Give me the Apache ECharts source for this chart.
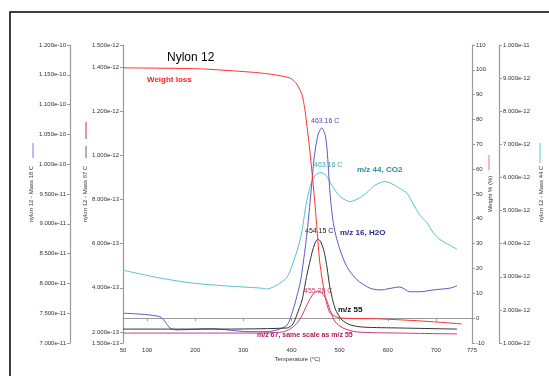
<!DOCTYPE html>
<html>
<head>
<meta charset="utf-8">
<script src="https://cdn.jsdelivr.net/npm/echarts@6/dist/echarts.min.js"></script>
<style>
html, body { margin: 0; padding: 0; background: #fff; }
#main { width: 549px; height: 376px; }
</style>
</head>
<body>
<div id="main"></div>
<script>
// temperatures (C) and signals
var tempMass18 = [50,127,148,162,231,314,349,370,391,403,418,428,434,441,447,455,463,470,474,480,486,492,501,515,536,563,584,625,646,667,694,729,744];
var mass18 = [7.50e-11,7.44e-11,7.25e-11,7.22e-11,7.24e-11,7.19e-11,7.19e-11,7.22e-11,7.30e-11,7.55e-11,8.01e-11,8.56e-11,8.98e-11,9.57e-11,10.10e-11,10.49e-11,10.61e-11,10.49e-11,10.24e-11,9.52e-11,9.06e-11,8.81e-11,8.56e-11,8.28e-11,8.06e-11,7.92e-11,7.89e-11,7.94e-11,7.86e-11,7.86e-11,7.89e-11,7.92e-11,7.96e-11];

var tempMass44 = [50,127,195,266,335,349,370,391,412,422,430,439,449,461,472,484,501,522,542,557,573,594,611,625,640,652,667,681,694,708,729,744];
var mass44 = [3.20e-12,2.96e-12,2.81e-12,2.72e-12,2.66e-12,2.63e-12,2.75e-12,2.99e-12,3.80e-12,4.40e-12,5.16e-12,5.73e-12,6.06e-12,6.15e-12,6.06e-12,5.76e-12,5.42e-12,5.27e-12,5.39e-12,5.55e-12,5.76e-12,5.88e-12,5.79e-12,5.67e-12,5.52e-12,5.22e-12,4.86e-12,4.64e-12,4.34e-12,4.13e-12,3.95e-12,3.83e-12];

var tempMass55 = [50,210,391,403,411,422,432,443,449,455,461,468,474,480,491,505,522,549,625,744];
var mass55 = [2.13e-13,2.13e-13,2.18e-13,2.36e-13,2.77e-13,3.45e-13,4.58e-13,5.62e-13,6.03e-13,6.21e-13,6.08e-13,5.62e-13,4.90e-13,3.99e-13,3.04e-13,2.54e-13,2.32e-13,2.22e-13,2.18e-13,2.13e-13];

var tempMass67 = [50,314,382,403,418,434,445,455,463,472,480,491,507,536,625,744];
var mass67 = [1.95e-13,1.95e-13,2.00e-13,2.22e-13,2.59e-13,3.31e-13,3.72e-13,3.86e-13,3.77e-13,3.49e-13,3.00e-13,2.45e-13,2.18e-13,2.00e-13,1.95e-13,1.91e-13];

var tempWeight = [50,210,314,355,397,411,422,428,438,449,453,459,470,480,501,584,667,754];
var weightPct = [100.8,100.4,99.1,98.3,96.7,94.3,89.9,83.8,67.7,45.6,35.6,22.2,8.5,2.1,0.1,-0.3,-1.1,-2.3];

var xTicks = [50,100,200,300,400,500,600,700,775];
var mass67Ticks = [1.5e-13,2e-13,4e-13,6e-13,8e-13,1e-12,1.2e-12,1.4e-12,1.5e-12];

function pairs(xs, ys) {
    return xs.map(function (x, i) { return [x, ys[i]]; });
}
function expo(v) { return v.toExponential(3); }

var font = 'Liberation Sans, Arial, sans-serif';
var axisGrey = '#9a9a9a';
var small = { fontSize: 6, color: '#333', fontFamily: font };

function yAx(o) {
    return Object.assign({
        type: 'value',
        nameLocation: 'middle',
        nameRotate: 90,
        nameMoveOverlap: false,
        nameTextStyle: small,
        axisLine: { show: true, lineStyle: { color: axisGrey, width: 1.2 } },
        axisTick: { show: true, length: 3, lineStyle: { color: axisGrey } },
        splitLine: { show: false },
        axisLabel: Object.assign({ margin: 4, formatter: expo }, small)
    }, o);
}

var myChart = echarts.init(document.getElementById('main'));
var option = {
    animation: false,
    backgroundColor: '#fff',
    title: {
        text: 'Nylon 12',
        left: 162, top: 47,
        textStyle: { fontSize: 12, fontWeight: 'normal', color: '#000', fontFamily: font }
    },
    grid: { left: 123, right: 77, top: 45, bottom: 33, containLabel: false, outerBoundsMode: 'none' },
    xAxis: {
        type: 'value', min: 50, max: 775,
        name: 'Temperature (°C)', nameLocation: 'middle', nameGap: 13, nameMoveOverlap: false,
        nameTextStyle: small,
        axisLine: { lineStyle: { color: axisGrey, width: 1.2 } },
        axisTick: { length: 3, customValues: xTicks, lineStyle: { color: axisGrey } },
        splitLine: { show: false },
        axisLabel: Object.assign({ margin: 4, customValues: xTicks }, small)
    },
    yAxis: [
        yAx({ position: 'left', offset: 53, min: 7e-11, max: 1.2e-10, interval: 5e-12,
              name: 'nylon 12 - Mass 18 C', nameGap: 36 }),
        yAx({ position: 'left', offset: 0, min: 1.5e-13, max: 1.5e-12,
              name: 'nylon 12 - Mass 67 C', nameGap: 35,
              axisTick: { show: true, length: 3, customValues: mass67Ticks, lineStyle: { color: axisGrey } },
              axisLabel: Object.assign({ margin: 4, formatter: expo, customValues: mass67Ticks }, small) }),
        yAx({ position: 'right', offset: 0, min: -10, max: 110, interval: 10,
              name: 'Weight % (%)', nameGap: 15,
              axisLabel: Object.assign({ margin: 4 }, small) }),
        yAx({ position: 'right', offset: 27, min: 1e-12, max: 1e-11, interval: 1e-12,
              name: 'nylon 12 - Mass 44 C', nameGap: 39 })
    ],
    series: [
        { name: 'm/z 44', type: 'line', yAxisIndex: 3, data: pairs(tempMass44, mass44), smooth: 0.25,
          showSymbol: false, lineStyle: { color: '#5cbfcb', width: 1 } },
        { name: 'm/z 18', type: 'line', yAxisIndex: 0, data: pairs(tempMass18, mass18), smooth: 0.25,
          showSymbol: false, lineStyle: { color: '#5a5ac8', width: 1 } },
        { name: 'm/z 55', type: 'line', yAxisIndex: 1, data: pairs(tempMass55, mass55), smooth: 0.25,
          showSymbol: false, lineStyle: { color: '#333', width: 1 } },
        { name: 'm/z 67', type: 'line', yAxisIndex: 1, data: pairs(tempMass67, mass67), smooth: 0.25,
          showSymbol: false, lineStyle: { color: '#c83c78', width: 1 } },
        { name: 'Weight', type: 'line', yAxisIndex: 2, data: pairs(tempWeight, weightPct), smooth: 0.2,
          showSymbol: false, lineStyle: { color: '#ff3030', width: 1 } }
    ],
    graphic: [
        // outer frame
        { type: 'polyline', shape: { points: [[10, 380], [10, 12], [560, 12]] }, style: { stroke: '#000', lineWidth: 1.5, fill: null } },
        // legend keys beside axis titles
        { type: 'line', shape: { x1: 33, y1: 143, x2: 33, y2: 158 }, style: { stroke: '#7a7ad8', lineWidth: 1 } },
        { type: 'line', shape: { x1: 86, y1: 122, x2: 86, y2: 139 }, style: { stroke: '#e07090', lineWidth: 1.5 } },
        { type: 'line', shape: { x1: 86, y1: 146, x2: 86, y2: 158 }, style: { stroke: '#666', lineWidth: 1 } },
        { type: 'line', shape: { x1: 489, y1: 155, x2: 489, y2: 170 }, style: { stroke: '#f07080', lineWidth: 1 } },
        { type: 'line', shape: { x1: 540, y1: 143, x2: 540, y2: 163 }, style: { stroke: '#5cbfcb', lineWidth: 1 } },
        // annotations
        { type: 'text', left: 147, top: 76, style: { text: 'Weight loss', fill: '#ff2020', font: 'bold 8px ' + font } },
        { type: 'text', left: 311, top: 118, style: { text: '463.16 C', fill: '#4848b0', font: '7px ' + font } },
        { type: 'text', left: 314, top: 162, style: { text: '463.16 C', fill: '#3aa4b4', font: '7px ' + font } },
        { type: 'text', left: 357, top: 166, style: { text: 'm/z 44, CO2', fill: '#2a8fa0', font: 'bold 8px ' + font } },
        { type: 'text', left: 305, top: 228, style: { text: '454.15 C', fill: '#222', font: '7px ' + font } },
        { type: 'text', left: 340, top: 229, style: { text: 'm/z 16, H2O', fill: '#2a2a90', font: 'bold 8px ' + font } },
        { type: 'text', left: 304, top: 288, style: { text: '455.28 C', fill: '#d04070', font: '7px ' + font } },
        { type: 'text', left: 338, top: 306, style: { text: 'm/z 55', fill: '#111', font: 'bold 8px ' + font } },
        { type: 'text', left: 257, top: 332, style: { text: 'm/z 67, same scale as m/z 55', fill: '#b01a5a', font: 'bold 7px ' + font } }
    ]
};
myChart.setOption(option);
</script>
</body>
</html>
